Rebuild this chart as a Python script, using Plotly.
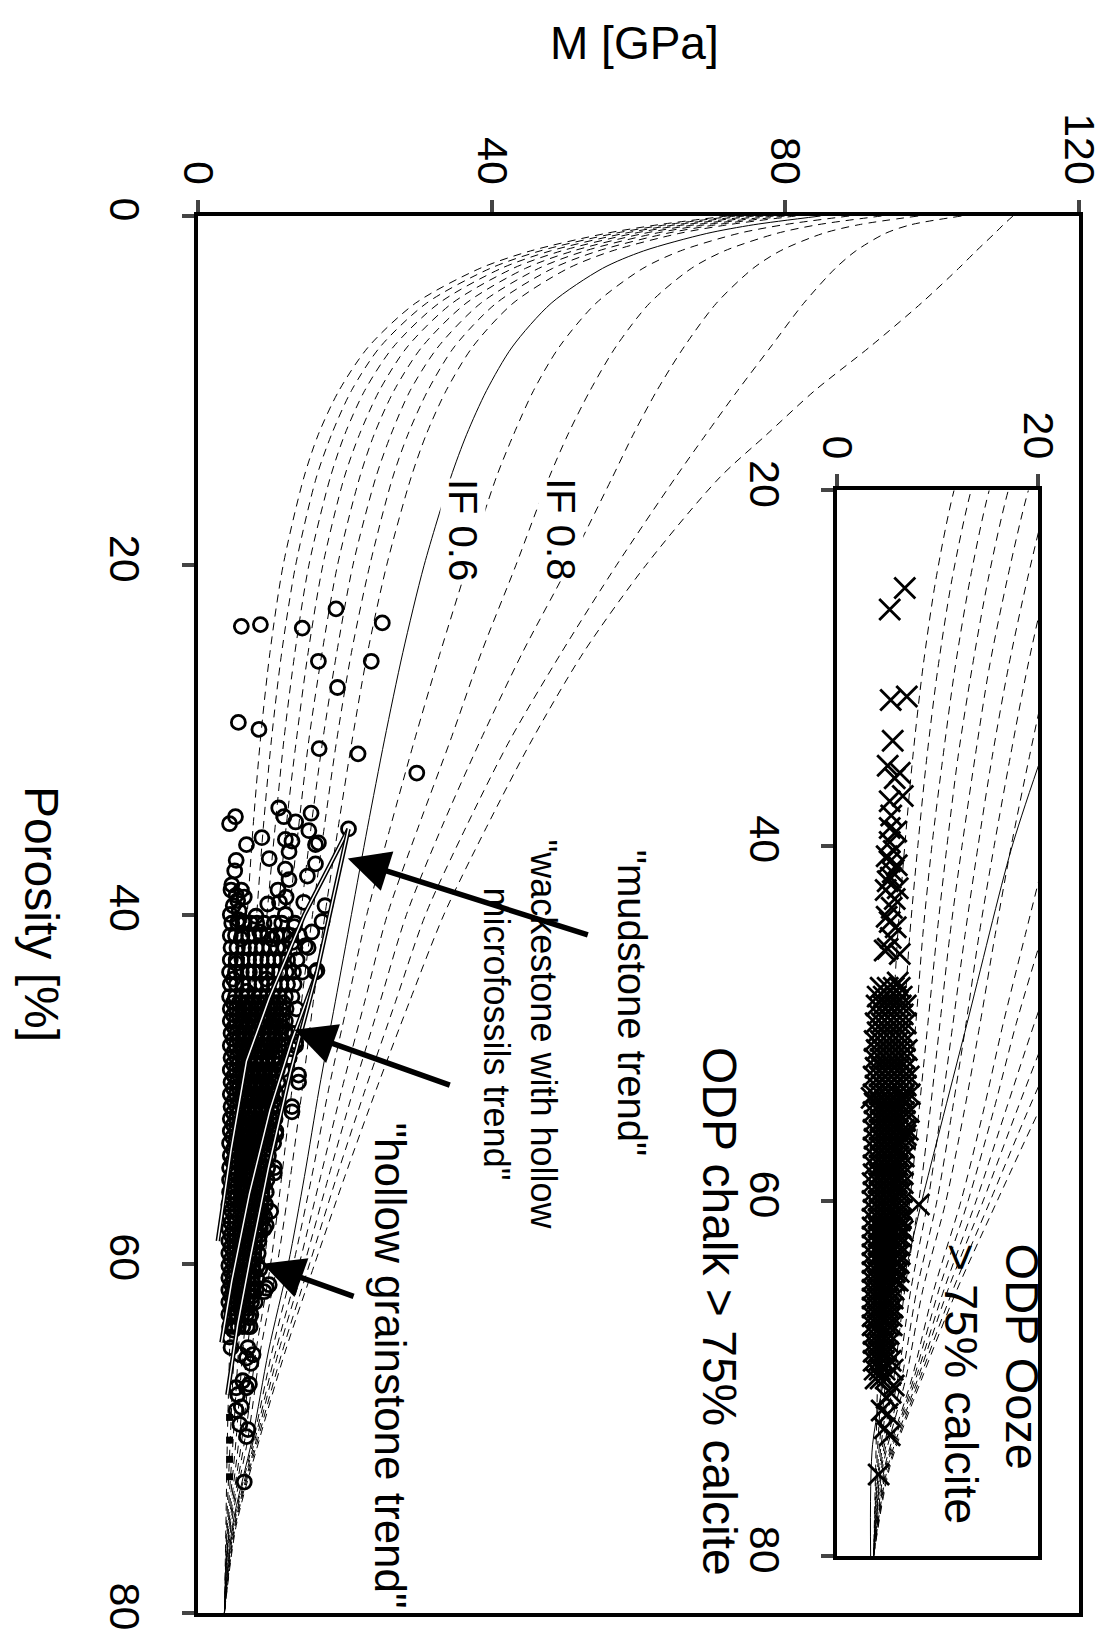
import plotly.graph_objects as go

W, H = 1116, 1642
L, R, T, B = 198, 1088, 216, 1616
def px(x): return (x - L) / (R - L)
def py(y): return (B - y) / (B - T)
FONT = "Liberation Sans, Arial, sans-serif"

# ---------------- iso-frame (IF) curves ----------------
por_curve = [0, 0.5, 1, 2, 3, 5, 7.5, 10, 12.5, 15, 20, 25, 30, 35, 40, 45, 50, 55, 60, 65, 70, 75, 80]
M_IF005 = [72.1, 62.7, 55.5, 45.3, 38.4, 29.6, 23.2, 19.2, 16.4, 14.4, 11.6, 9.8, 8.5, 7.5, 6.7, 6.0, 5.5, 5.0, 4.6, 4.3, 4.0, 3.8, 3.6]
M_IF010 = [73.2, 63.8, 56.7, 46.6, 39.8, 31.1, 24.8, 20.9, 18.2, 16.1, 13.3, 11.4, 10.0, 8.9, 8.0, 7.2, 6.6, 6.0, 5.4, 4.9, 4.4, 3.9, 3.6]
M_IF015 = [74.4, 65.1, 58.0, 48.0, 41.3, 32.8, 26.6, 22.7, 20.0, 18.0, 15.1, 13.2, 11.7, 10.5, 9.4, 8.5, 7.8, 7.0, 6.3, 5.5, 4.8, 4.0, 3.6]
M_IF020 = [75.7, 66.3, 59.3, 49.5, 42.9, 34.6, 28.5, 24.7, 22.0, 19.9, 17.0, 15.0, 13.4, 12.0, 10.9, 9.9, 9.0, 8.1, 7.2, 6.1, 5.2, 4.1, 3.6]
M_IF025 = [77.0, 67.7, 60.7, 51.1, 44.6, 36.5, 30.5, 26.7, 24.0, 22.0, 19.0, 16.9, 15.1, 13.7, 12.4, 11.2, 10.2, 9.2, 8.1, 6.7, 5.6, 4.2, 3.6]
M_IF030 = [78.4, 69.1, 62.2, 52.7, 46.4, 38.5, 32.7, 28.9, 26.3, 24.2, 21.1, 18.9, 17.0, 15.4, 14.0, 12.7, 11.5, 10.3, 9.0, 7.3, 6.0, 4.3, 3.6]
M_IF035 = [79.9, 70.6, 63.8, 54.5, 48.3, 40.6, 34.9, 31.3, 28.6, 26.5, 23.4, 20.9, 18.9, 17.2, 15.6, 14.1, 12.8, 11.4, 9.9, 7.9, 6.4, 4.4, 3.6]
M_IF040 = [81.4, 72.2, 65.5, 56.4, 50.4, 42.9, 37.4, 33.8, 31.1, 29.0, 25.7, 23.1, 21.0, 19.1, 17.3, 15.7, 14.2, 12.6, 10.8, 8.5, 6.8, 4.5, 3.6]
M_IF050 = [84.8, 75.7, 69.3, 60.7, 55.1, 48.1, 42.8, 39.3, 36.6, 34.4, 30.8, 27.9, 25.4, 23.1, 20.9, 18.7, 16.5, 14.5, 12.3, 9.6, 7.4, 4.7, 3.6]
M_IF060 = [88.7, 79.8, 73.6, 65.7, 60.6, 54.2, 49.2, 45.7, 43.0, 40.6, 36.7, 33.0, 29.5, 26.2, 23.0, 20.4, 17.8, 15.5, 13.0, 10.1, 7.6, 4.8, 3.6]
M_IF070 = [93.1, 84.4, 78.8, 71.7, 67.2, 61.5, 56.9, 53.4, 50.4, 47.8, 43.3, 38.6, 34.4, 30.0, 25.8, 22.7, 19.6, 16.7, 13.8, 10.6, 7.8, 4.9, 3.6]
M_IF080 = [98.1, 90.0, 85.1, 79.3, 75.6, 70.6, 66.2, 62.5, 59.3, 56.4, 50.5, 44.2, 38.5, 33.2, 28.4, 24.8, 21.2, 17.8, 14.5, 11.0, 8.0, 5.0, 3.6]
M_IF090 = [104.0, 97.1, 93.6, 89.6, 86.8, 82.5, 78.0, 73.5, 69.2, 65.0, 57.0, 49.5, 42.5, 36.5, 31.0, 26.9, 22.8, 18.9, 15.2, 11.5, 8.2, 5.1, 3.6]
M_IF100 = [111.0, 109.7, 108.5, 106.0, 103.6, 98.5, 91.5, 84.0, 77.5, 71.0, 61.0, 52.5, 45.5, 39.3, 33.5, 28.8, 24.3, 20.0, 15.9, 11.9, 8.4, 5.2, 3.6]
dashed_curves = [M_IF005, M_IF010, M_IF015, M_IF020, M_IF025, M_IF030, M_IF035, M_IF040,
                 M_IF060, M_IF070, M_IF080, M_IF090, M_IF100]
solid_curve = M_IF050

# ---------------- ODP chalk (open circles), [M, porosity] ----------------
chalk_sparse = [[5.9,23.5],[8.5,23.4],[14.2,23.6],[18.8,22.5],[25.1,23.3],[16.4,25.5],[23.6,25.5],
    [19.0,27.0],[5.5,29.0],[8.3,29.4],[16.5,30.5],[21.8,30.8],[29.8,31.9],[20.5,35.1]]
chalk_mid = [[11.0,33.9],[11.7,34.4],[13.3,34.7],[15.4,34.2],[5.1,34.4],[4.3,34.8],[15.1,35.2],[8.7,35.6],
    [6.6,36.0],[11.9,35.7],[12.8,35.8],[16.0,36.0],[16.4,35.9],[12.4,36.4],[9.7,36.8],[5.2,36.9],[5.0,37.5],
    [16.0,37.1],[14.9,37.8],[11.9,37.4],[12.4,38.0],[4.6,38.3],[5.9,38.6],[5.4,39.2],[9.5,39.4],[11.1,39.3],
    [11.9,40.0],[14.4,39.3],[17.3,39.5],[16.9,40.4],[7.9,40.1],[6.1,40.4],[5.9,41.4],[8.4,41.0],[10.1,41.4],
    [14.6,41.8],[12.8,41.6],[16.0,43.3],[5.2,42.8],[4.8,43.7],[7.0,43.3],[9.3,43.7],[6.6,44.4],[4.5,38.6],
    [5.2,38.9],[4.8,39.5],[5.6,39.8],[6.3,39.0],[4.4,40.0],[5.5,40.3],[10.9,38.6],[12.0,39.0],[13.1,40.7],
    [15.5,41.0],[16.2,43.2]]
chalk_lower = [[13.7,49.2],[12.8,51.3],[10.6,50.9],[10.6,52.6],[10.4,54.8],[9.9,57.0],[9.3,57.8],[8.4,55.6],
    [8.8,55.3],[12.8,47.7],[13.3,47.3],[11.9,46.7],[12.4,48.2],[8.4,60.3],[9.7,61.2],[9.0,61.6],[9.3,61.4],
    [7.0,63.1],[5.2,62.9],[6.8,64.8],[7.5,65.2],[7.2,65.7],[6.6,65.4],[5.7,65.2],[4.5,64.8],[4.3,64.2],
    [4.8,63.8],[5.4,67.5],[6.6,67.1],[6.1,66.7],[7.0,66.9],[5.2,67.1],[6.6,69.9],[6.8,69.5],[5.7,69.2],
    [5.2,68.4],[5.9,68.2],[6.3,72.5]]
chalk_dense_por = [40.5, 41.2, 41.9, 42.6, 43.3, 44.0, 44.7, 45.4, 46.1, 46.8, 47.5, 48.2, 48.9, 49.6, 50.3,
    51.0, 51.7, 52.4, 53.1, 53.8, 54.5, 55.2, 55.9, 56.6, 57.3, 58.0, 58.7, 59.4, 60.1, 60.8, 61.5, 62.2, 62.9, 63.6]
chalk_dense_M = [
    [4.6,5.4,6.3,7.2,8.0,9.0,10.4,11.4,13.2],
    [4.4,5.1,6.0,6.9,7.7,8.6,9.5,10.7,11.6,12.6,13.8],
    [4.5,5.3,6.2,7.0,7.9,8.8,9.8,10.8,11.8,13.2,15.0],
    [4.4,5.2,6.0,6.9,7.8,8.6,9.5,10.4,11.3,12.2,13.5],
    [4.3,5.1,5.9,6.8,7.6,8.5,9.4,10.3,11.1,12.0,13.0,14.2],
    [4.4,5.2,6.1,6.9,7.8,8.7,9.6,10.4,11.3,12.2,13.1],
    [4.3,5.1,6.0,6.8,7.7,8.5,9.4,10.2,11.1,11.9,12.8],
    [4.4,5.2,6.1,6.9,7.8,8.6,9.5,10.3,11.2,12.0,13.4],
    [4.4,5.2,6.0,6.9,7.7,8.6,9.4,10.3,11.1,11.9],
    [4.5,5.3,6.1,7.0,7.8,8.7,9.5,10.4,11.2,11.9,12.8],
    [4.4,5.2,6.0,6.9,7.7,8.6,9.4,10.2,11.0,11.8,13.3],
    [4.5,5.3,6.1,6.9,7.8,8.6,9.4,10.2,11.0,12.4],
    [4.4,5.2,6.0,6.8,7.6,8.4,9.2,10.0,10.8,11.5],
    [4.5,5.3,6.1,6.9,7.7,8.5,9.3,10.1,10.9,13.7],
    [4.4,5.2,6.0,6.8,7.6,8.4,9.2,10.0,10.7],
    [4.5,5.3,6.1,6.9,7.7,8.5,9.2,10.0,10.6,12.8],
    [4.4,5.2,6.0,6.8,7.5,8.3,9.1,9.8,10.5],
    [4.4,5.2,6.0,6.7,7.5,8.3,9.0,9.8,10.6],
    [4.3,5.1,5.9,6.7,7.4,8.2,8.9,9.7,10.3],
    [4.4,5.2,5.9,6.7,7.4,8.2,8.9,9.6],
    [4.3,5.1,5.9,6.6,7.4,8.1,8.8,9.5,10.4],
    [4.3,5.1,5.8,6.6,7.3,8.0,8.7,9.4],
    [4.3,5.0,5.8,6.5,7.2,8.0,8.7,9.3],
    [4.2,5.0,5.7,6.5,7.2,7.9,8.6,9.2],
    [4.3,5.0,5.7,6.4,7.1,7.8,8.5,9.1],
    [4.2,4.9,5.6,6.4,7.1,7.8,8.4,9.0],
    [4.2,4.9,5.6,6.3,7.0,7.7,8.3],
    [4.2,4.9,5.6,6.3,7.0,7.6,8.2],
    [4.2,4.9,5.5,6.2,6.9,7.5,8.1],
    [4.2,4.8,5.5,6.2,6.8,7.4,8.0],
    [4.2,4.8,5.5,6.1,6.8,7.4,7.9],
    [4.2,4.8,5.4,6.1,6.7,7.3,7.8],
    [4.2,4.8,5.4,6.0,6.6,7.2],
    [4.3,4.9,5.5,6.1,6.7,7.1]]
chalk_dense2_por = [45.05, 45.75, 46.45, 47.15, 47.85, 48.55, 49.25, 49.95, 50.65, 51.35, 52.05, 52.75, 53.45,
    54.15, 54.85, 55.55, 56.25, 56.95, 57.65, 58.35, 59.05, 59.75, 60.45, 61.15, 61.85, 62.55]
chalk_dense2_M = [
    [4.8,5.6,6.5,7.3,8.2,9.0,9.9,10.7,11.6], [4.8,5.6,6.4,7.3,8.1,9.0,9.8,10.7,11.5],
    [4.9,5.7,6.5,7.4,8.2,9.0,9.9,10.7,11.5], [4.8,5.6,6.4,7.3,8.1,9.0,9.8,10.6,11.4],
    [4.9,5.7,6.5,7.3,8.2,9.0,9.8,10.6,11.3], [4.8,5.6,6.4,7.2,8.0,8.8,9.6,10.4,11.1],
    [4.9,5.7,6.5,7.3,8.1,8.9,9.7,10.5], [4.8,5.6,6.4,7.2,8.0,8.8,9.6,10.3],
    [4.9,5.7,6.5,7.3,8.1,8.8,9.6,10.3], [4.8,5.6,6.4,7.1,7.9,8.7,9.4,10.1],
    [4.8,5.6,6.4,7.1,7.9,8.6,9.4,10.1], [4.7,5.5,6.3,7.0,7.8,8.5,9.3,10.0],
    [4.8,5.5,6.3,7.0,7.8,8.5,9.2], [4.7,5.5,6.2,7.0,7.7,8.4,9.1],
    [4.7,5.4,6.2,6.9,7.6,8.3,9.0], [4.6,5.4,6.1,6.8,7.6,8.3,8.9],
    [4.6,5.3,6.1,6.8,7.5,8.2,8.8], [4.6,5.3,6.0,6.7,7.4,8.1,8.7],
    [4.5,5.2,6.0,6.7,7.4,8.0,8.6], [4.5,5.2,5.9,6.6,7.3,7.9,8.4],
    [4.5,5.2,5.9,6.6,7.2,7.8], [4.5,5.2,5.8,6.5,7.1,7.7],
    [4.5,5.1,5.8,6.4,7.0,7.6], [4.5,5.1,5.7,6.4,7.0,7.5],
    [4.5,5.1,5.7,6.3,6.9,7.4], [4.5,5.1,5.7,6.3,6.8]]
chalk_squares = [[4.3,68.8],[4.3,70.1],[4.3,71.2],[4.3,72.2]]

# trend lines [M], [porosity]
mud_M = [20.5, 14.5, 9.7, 6.6, 4.5, 2.7]
mud_por = [35.1, 40.0, 44.8, 48.4, 53.5, 58.7]
wack_M = [20.5, 16.2, 12.8, 9.8, 7.0, 4.6, 3.2]
wack_por = [35.1, 43.3, 47.2, 51.2, 56.0, 61.0, 64.5]
grain_M = [16.2, 12.6, 9.6, 7.2, 5.4, 4.0]
grain_por = [43.3, 49.0, 54.5, 59.5, 63.5, 67.5]

# ---------------- ODP ooze (crosses, inset) [M, porosity] ----------------
ooze_sparse = [[6.7,25.5],[5.2,26.7],[5.3,31.8],[6.9,31.6],[5.5,34.1],[5.0,35.5],[6.2,35.9],[5.7,36.2],
    [6.5,37.2],[5.2,37.5],[5.35,38.3],[5.2,39.0],[5.85,39.2],[5.2,39.8],[5.2,40.9],[5.5,41.5],[5.0,42.0],
    [5.7,43.0],[5.2,44.3],[5.0,45.8],[6.2,46.1],[6.0,47.7],[5.6,40.3],[4.9,40.6],[5.9,41.1],[5.3,41.8],
    [4.8,42.5],[6.0,42.4],[5.4,43.5],[4.9,44.0],[5.8,44.6],[5.3,45.2],[4.7,45.9],[3.4,54.2],[6.5,54.2],
    [6.8,56.3],[8.1,60.2],[6.2,61.1],[6.5,61.7],[5.6,70.4],[5.3,70.8],[4.9,71.1],[4.4,71.8],[5.0,72.0],
    [4.7,72.8],[5.2,73.2],[4.1,75.4]]
ooze_dense_por = [48.0,48.5,49.0,49.5,50.0,50.5,51.0,51.5,52.0,52.5,53.0,53.5,54.0,54.5,55.0,55.5,56.0,
    56.5,57.0,57.5,58.0,58.5,59.0,59.5,60.0,60.5,61.0,61.5,62.0,62.5,63.0,63.5,64.0,64.5,65.0,65.5,66.0,
    66.5,67.0,67.5,68.0,68.5,69.0,69.5,70.0]
ooze_dense_M = [
    [4.3,5.0,5.6,6.2],[4.0,4.6,5.2,5.8,6.4],[3.9,4.5,5.1,5.7,6.3,6.8],[4.1,4.7,5.3,5.9,6.5],
    [3.8,4.4,5.0,5.6,6.2,6.8],[4.0,4.6,5.2,5.8,6.4],[3.7,4.3,4.9,5.5,6.1,6.7],[3.9,4.5,5.1,5.7,6.3,6.9],
    [3.7,4.3,4.9,5.5,6.1,6.7],[3.8,4.4,5.0,5.6,6.2,6.8],[3.6,4.2,4.8,5.4,6.0,6.6,7.1],[3.8,4.4,5.0,5.6,6.2,6.8],
    [3.6,4.2,4.8,5.4,6.0,6.6,7.2],[3.7,4.3,4.9,5.5,6.1,6.7],[3.6,4.2,4.8,5.4,6.0,6.6,7.1],[3.7,4.3,4.9,5.5,6.1,6.7],
    [3.6,4.2,4.8,5.4,6.0,6.6,7.0],[3.7,4.3,4.9,5.5,6.1,6.7],[3.6,4.2,4.8,5.4,6.0,6.6],[3.7,4.3,4.9,5.5,6.1,6.6],
    [3.6,4.2,4.8,5.4,6.0,6.5],[3.6,4.2,4.8,5.4,6.0,6.5],[3.5,4.1,4.7,5.3,5.9,6.5],[3.6,4.2,4.8,5.4,6.0,6.4],
    [3.5,4.1,4.7,5.3,5.9,6.4],[3.6,4.2,4.8,5.4,6.0,6.4],[3.5,4.1,4.7,5.3,5.9,6.3],[3.5,4.1,4.7,5.3,5.9,6.3],
    [3.5,4.1,4.7,5.3,5.9,6.3],[3.5,4.1,4.7,5.3,5.8,6.2],[3.5,4.1,4.7,5.2,5.8,6.2],[3.5,4.1,4.6,5.2,5.8,6.1],
    [3.5,4.0,4.6,5.2,5.7,6.1],[3.5,4.0,4.6,5.1,5.7,6.0],[3.5,4.0,4.6,5.1,5.6],[3.5,4.0,4.5,5.0,5.5],
    [3.5,4.0,4.5,5.0,5.5],[3.5,4.0,4.5,5.0,5.4],[3.5,4.0,4.5,5.0,5.4],[3.6,4.1,4.6,5.1],[3.6,4.1,4.6,5.1],
    [3.6,4.1,4.6,5.0],[3.6,4.1,4.6,5.3],[3.7,4.2,4.7,5.5],[3.8,4.3,4.8]]
ooze_trend_M = [20.0, 17.3, 12.9, 8.4, 7.0, 5.2, 3.5, 3.3]
ooze_trend_por = [35.5, 40.2, 50.0, 60.0, 63.4, 68.5, 73.7, 80.0]

# ---------------- build figure ----------------
fig = go.Figure()
DASH = '8px,6px'

def curve(xs, ys, dash, xa='x', ya='y', width=1):
    fig.add_trace(go.Scatter(x=xs, y=ys, mode='lines', xaxis=xa, yaxis=ya,
        line=dict(color='black', width=width, dash=dash, shape='spline', smoothing=0.8),
        showlegend=False, hoverinfo='skip', cliponaxis=True))

for c in dashed_curves:
    curve(c, por_curve, DASH)
curve(solid_curve, por_curve, 'solid')

def flat_pairs(pairs):
    return [p[0] for p in pairs], [p[1] for p in pairs]

cm, cp = [], []
for grp in (chalk_sparse, chalk_mid, chalk_lower):
    a, b = flat_pairs(grp); cm += a; cp += b
for pors, rows in ((chalk_dense_por, chalk_dense_M), (chalk_dense2_por, chalk_dense2_M)):
    for por, row in zip(pors, rows):
        cm += row; cp += [por] * len(row)
fig.add_trace(go.Scatter(x=cm, y=cp, mode='markers', showlegend=False, hoverinfo='skip',
    marker=dict(symbol='circle-open', size=14, color='black', line=dict(width=2.8))))
sm, sp = flat_pairs(chalk_squares)
fig.add_trace(go.Scatter(x=sm, y=sp, mode='markers', showlegend=False, hoverinfo='skip',
    marker=dict(symbol='square', size=7, color='black')))

# trend lines: black edge with white core inside the cloud
for xs, ys in ((mud_M, mud_por), (wack_M, wack_por), (grain_M, grain_por)):
    fig.add_trace(go.Scatter(x=xs, y=ys, mode='lines', showlegend=False, hoverinfo='skip',
        line=dict(color='black', width=4.5)))
    fig.add_trace(go.Scatter(x=xs, y=ys, mode='lines', showlegend=False, hoverinfo='skip',
        line=dict(color='white', width=1.5)))

# inset
for c in dashed_curves + [solid_curve]:
    curve(c, por_curve, DASH, 'x2', 'y2')
curve(ooze_trend_M, ooze_trend_por, 'solid', 'x2', 'y2')
om, op = flat_pairs(ooze_sparse)
for por, row in zip(ooze_dense_por, ooze_dense_M):
    om += row; op += [por] * len(row)
fig.add_trace(go.Scatter(x=om, y=op, mode='markers', xaxis='x2', yaxis='y2', showlegend=False,
    hoverinfo='skip', marker=dict(symbol='x-thin', size=21, color='black', line=dict(width=2.8, color='black'))))

# ---------------- text ----------------
def rtext(txt, x, y, size, align='center'):
    fig.add_annotation(xref='paper', yref='paper', x=px(x), y=py(y), text=txt, showarrow=False,
        textangle=90, xanchor='center', yanchor='middle', align=align,
        font=dict(family=FONT, size=size, color='black'))

fig.add_annotation(xref='paper', yref='paper', x=px(564), y=py(478), text='IF 0.8', showarrow=False,
    textangle=90, bgcolor='white', borderpad=0, font=dict(family=FONT, size=40, color='black'))
fig.add_annotation(xref='paper', yref='paper', x=px(442), y=py(478), text='IF 0.6', showarrow=False,
    textangle=90, bgcolor='white', borderpad=0, font=dict(family=FONT, size=40, color='black'))
rtext('"mudstone trend"', 636, 1004, 40)
rtext('"wackestone with hollow<br>microfossils trend"', 523, 1036, 36)
rtext('"hollow grainstone trend"', 392, 1368, 44)
rtext('ODP chalk &gt; 75% calcite', 725, 1314, 48)
rtext('ODP Ooze<br>&gt; 75% calcite', 1000, 1387, 47, align='left')
rtext('Porosity [%]', 40, 915, 48)
fig.add_annotation(xref='paper', yref='paper', x=px(639), y=py(43), text='M [GPa]', showarrow=False,
    xanchor='center', yanchor='middle', font=dict(family=FONT, size=46, color='black'))

# arrows (tip -> tail in data units)
arrows = [[20.4, 36.8, 53.3, 41.2], [13.1, 46.6, 34.5, 49.8], [8.8, 60.0, 21.4, 61.9]]
for tx, ty, ax_, ay_ in arrows:
    fig.add_annotation(x=tx, y=ty, ax=ax_, ay=ay_, xref='x', yref='y', axref='x', ayref='y',
        text='', showarrow=True, arrowhead=2, arrowsize=1.5, arrowwidth=5.5, arrowcolor='black')

# ---------------- axes ----------------
axis_common = dict(ticks='outside', ticklen=12, tickwidth=4, linewidth=4, linecolor='black',
    mirror=True, showgrid=False, zeroline=False, tickangle=90,
    tickfont=dict(family=FONT, size=43, color='black'))
ix0, ix1 = px(844), px(1047)
iy0, iy1 = py(1559), py(491)
fig.update_layout(width=W, height=H, margin=dict(l=L, r=W-R, t=T, b=H-B),
    paper_bgcolor='white', plot_bgcolor='white', showlegend=False,
    xaxis=dict(range=[0,120], side='top', tickvals=[0,40,80,120], domain=[0,1], anchor='y', **axis_common),
    yaxis=dict(range=[80,0], tickvals=[0,20,40,60,80], domain=[0,1], anchor='x', ticklabelstandoff=20, **axis_common),
    xaxis2=dict(range=[0,20], side='top', tickvals=[0,20], domain=[ix0, ix1], anchor='y2', **axis_common),
    yaxis2=dict(range=[80,20], tickvals=[20,40,60,80], domain=[iy0, iy1], anchor='x2', ticklabelstandoff=20, **axis_common))
fig.write_html("out.html")
